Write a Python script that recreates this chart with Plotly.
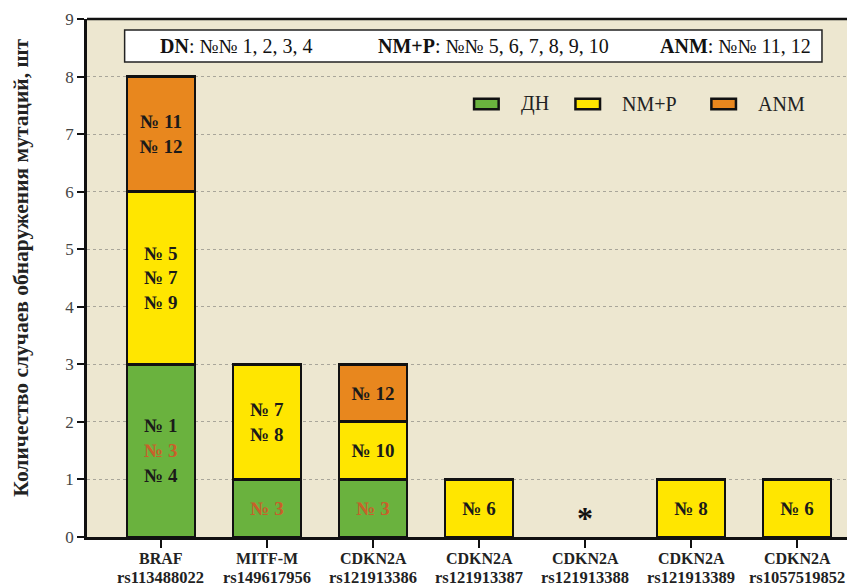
import plotly.graph_objects as go

genes = ["BRAF", "MITF-M", "CDKN2A", "CDKN2A", "CDKN2A", "CDKN2A", "CDKN2A"]
snps = ["rs113488022", "rs149617956", "rs121913386", "rs121913387",
        "rs121913388", "rs121913389", "rs1057519852"]
series_names = ["ДН", "NM+P", "ANM"]
dn_values = [3, 1, 1, None, None, None, None]
nmp_values = [3, 2, 1, 1, None, 1, 1]
anm_values = [2, None, 1, None, None, None, None]

RED = "#C8602A"
dn_labels = ["№ 1<br><span style='color:%s'>№ 3</span><br>№ 4" % RED,
             "<span style='color:%s'>№ 3</span>" % RED,
             "<span style='color:%s'>№ 3</span>" % RED, "", "", "", ""]
nmp_labels = ["№ 5<br>№ 7<br>№ 9", "№ 7<br>№ 8", "№ 10", "№ 6", "", "№ 8", "№ 6"]
anm_labels = ["№ 11<br>№ 12", "", "№ 12", "", "", "", ""]

colors = ["#6AB23E", "#FFE600", "#E8871E"]
SERIF = "Liberation Serif"

x_idx = list(range(len(genes)))
fig = go.Figure()
for name, vals, labs, col in zip(series_names, [dn_values, nmp_values, anm_values],
                                 [dn_labels, nmp_labels, anm_labels], colors):
    fig.add_trace(go.Bar(
        x=x_idx, y=vals, name=name, text=labs, texttemplate="<b>%{text}</b>",
        textposition="inside", insidetextanchor="middle", textangle=0,
        textfont=dict(family=SERIF, size=19, color="#1a1a1a"),
        marker=dict(color=col, line=dict(color="#111", width=2.8)),
        width=0.64, showlegend=False,
    ))

fig.add_annotation(x=4, y=0.33, text="<b>*</b>", showarrow=False,
                   font=dict(family=SERIF, size=32, color="#111"))

# x category labels (two lines, tight spacing)
for i, g, s in zip(x_idx, genes, snps):
    fig.add_annotation(x=i, xref="x", y=0, yref="paper", yanchor="middle", yshift=-21,
                       text="<b>%s</b>" % g, showarrow=False,
                       font=dict(family=SERIF, size=16, color="#222"))
    fig.add_annotation(x=i, xref="x", y=0, yref="paper", yanchor="middle", yshift=-40,
                       text="<b>%s</b>" % s, showarrow=False,
                       font=dict(family=SERIF, size=16.5, color="#222"))

# y-axis title
fig.add_annotation(xref="paper", yref="paper", x=0, xshift=-66, xanchor="center",
                   y=0.52, yanchor="middle", textangle=-90, showarrow=False,
                   text="<b>Количество случаев обнаружения мутаций, шт</b>",
                   font=dict(family=SERIF, size=21.5, color="#222"))

# top info box
fig.add_shape(type="rect", xref="paper", yref="paper", x0=0.049, x1=0.957, y0=0.917, y1=0.979,
              fillcolor="white", line=dict(color="#222", width=1.5), layer="above")
for xp, txt in [(0.195, "<b>DN</b>: №№ 1, 2, 3, 4"),
                (0.529, "<b>NM+P</b>: №№ 5, 6, 7, 8, 9, 10"),
                (0.845, "<b>ANM</b>: №№ 11, 12")]:
    fig.add_annotation(xref="paper", yref="paper", x=xp, y=0.948, text=txt, showarrow=False,
                       font=dict(family=SERIF, size=20, color="#111"), xanchor="center", yanchor="middle")

# legend (drawn)
for name, col, sx in zip(series_names, colors, [0.504, 0.636, 0.813]):
    fig.add_shape(type="rect", xref="paper", yref="paper", x0=sx, x1=sx + 0.032,
                  y0=0.826, y1=0.846, fillcolor=col, line=dict(color="#111", width=2.5))
    fig.add_annotation(xref="paper", yref="paper", x=sx + 0.058, y=0.836, xanchor="left",
                       yanchor="middle", text=name, showarrow=False,
                       font=dict(family=SERIF, size=20, color="#222"))

fig.update_layout(
    width=847, height=580, barmode="stack",
    margin=dict(l=79, r=0, t=11, b=51, autoexpand=False),
    paper_bgcolor="white", plot_bgcolor="#EDE7D0",
    font=dict(family=SERIF, color="#222"),
    showlegend=False,
    xaxis=dict(tickmode="array", tickvals=x_idx, showticklabels=False,
               range=[-0.698, 6.547], showgrid=False, zeroline=False, automargin=False,
               showline=True, linecolor="#111", linewidth=2.5,
               ticks="outside", ticklen=8, tickwidth=2, tickcolor="#111"),
    yaxis=dict(range=[0, 9], dtick=1, tick0=0, showgrid=True, gridcolor="#A9A69A",
               griddash="dot", gridwidth=1, zeroline=False, automargin=False,
               showline=True, linecolor="#111", linewidth=2.5, mirror=False,
               ticks="outside", ticklen=7, tickwidth=2, tickcolor="#111",
               tickfont=dict(family=SERIF, size=17, color="#444")),
)
# top border line
fig.add_shape(type="line", xref="paper", yref="paper", x0=0, x1=1, y0=1, y1=1,
              line=dict(color="#111", width=2.5))

fig.write_html("out.html")
